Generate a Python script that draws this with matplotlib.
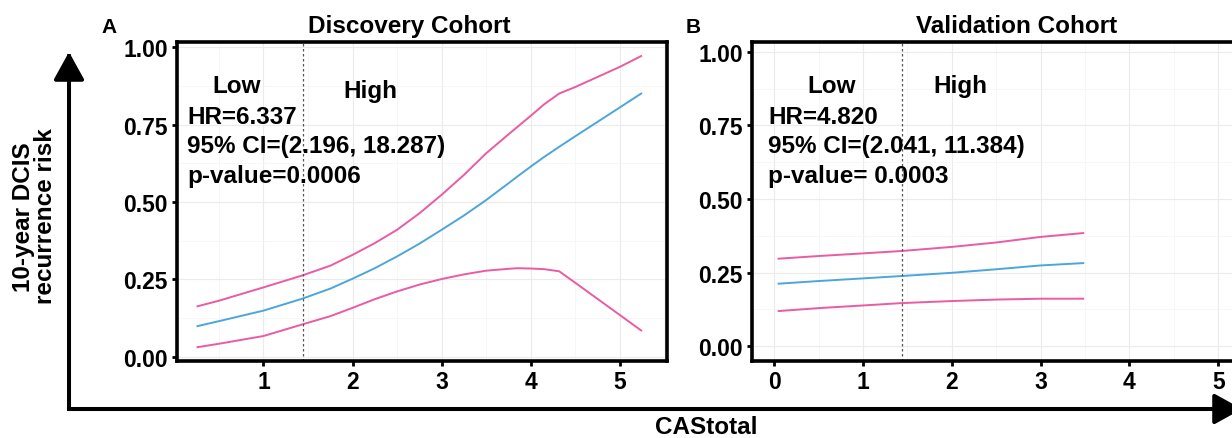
import matplotlib
matplotlib.use("Agg")
import matplotlib.pyplot as plt
import numpy as np
from matplotlib.patches import FancyArrowPatch

plt.rcParams["font.family"] = ["Liberation Sans", "DejaVu Sans"]
plt.rcParams["font.weight"] = "bold"

# --- data ------------------------------------------------------------------
disc_x = [0.26, 0.5, 1.0, 1.43, 1.75, 2.0, 2.25, 2.5, 2.75, 3.0, 3.25, 3.5, 3.75,
          3.85, 4.0, 4.15, 4.32, 4.5, 5.0, 5.24]
disc_mid = [0.099, 0.115, 0.149, 0.187, 0.220, 0.252, 0.286, 0.324, 0.365, 0.410, 0.456, 0.506, 0.560,
            0.582, 0.614, 0.645, 0.678, 0.712, 0.805, 0.850]
disc_upper = [0.163, 0.181, 0.224, 0.262, 0.294, 0.329, 0.367, 0.410, 0.463, 0.523, 0.587, 0.657, 0.718,
              0.742, 0.778, 0.815, 0.850, 0.871, 0.936, 0.971]
disc_lower = [0.031, 0.042, 0.067, 0.104, 0.131, 0.158, 0.186, 0.211, 0.233, 0.251, 0.266, 0.278, 0.284,
              0.286, 0.285, 0.283, 0.276, 0.239, 0.135, 0.085]

val_x = [0.05, 0.5, 1.0, 1.43, 2.0, 2.5, 3.0, 3.48]
val_mid = [0.212, 0.221, 0.230, 0.238, 0.249, 0.261, 0.274, 0.282]
val_upper = [0.297, 0.306, 0.315, 0.323, 0.337, 0.352, 0.371, 0.384]
val_lower = [0.119, 0.129, 0.138, 0.146, 0.153, 0.158, 0.161, 0.161]

cutoff = 1.44
yticks = [0.0, 0.25, 0.5, 0.75, 1.0]
ytick_labels = ["0.00", "0.25", "0.50", "0.75", "1.00"]

panels = [
    dict(title="Discovery Cohort", x=disc_x, mid=disc_mid, up=disc_upper, lo=disc_lower,
         stats=["HR=6.337", "95% CI=(2.196, 18.287)", "p-value=0.0006"],
         xticks=[1, 2, 3, 4, 5], xlim=(0.03, 5.53), ylim=(-0.012, 1.018), box=(177, 667),
         letter=("A", 109), title_x=409, low=(237, 93), high=(370, 98), stat_x=187),
    dict(title="Validation Cohort", x=val_x, mid=val_mid, up=val_upper, lo=val_lower,
         stats=["HR=4.820", "95% CI=(2.041, 11.384)", "p-value= 0.0003"],
         xticks=[0, 1, 2, 3, 4, 5], xlim=(-0.25, 6.0), ylim=(-0.049, 1.035), box=(752, 1307),
         letter=("B", 693), title_x=1017, low=(832, 93), high=(960, 93), stat_x=768),
]

pink = "#EA5BA3"
blue = "#4CA6DC"
fs = 17.5

W, H = 1232, 439
fig = plt.figure(figsize=(W / 100, H / 100), dpi=100)


def ftext(px, py, s, **kw):
    """Place text with pixel coordinates measured from the top-left corner."""
    return fig.text(px / W, 1 - py / H, s, fontweight="bold", **kw)


top_px, bot_px = 42.5, 361.5
for pan in panels:
    l, r = pan["box"]
    ax = fig.add_axes([l / W, 1 - bot_px / H, (r - l) / W, (bot_px - top_px) / H])

    # faint ggplot-like grid (ticks first, limits after so they are not widened)
    ax.set_xticks(pan["xticks"])
    ax.set_yticks(yticks)
    ax.set_xticks(np.arange(-0.5, 6.5, 1.0), minor=True)
    ax.set_yticks(np.arange(0.125, 1.0, 0.25), minor=True)
    ax.set_xlim(*pan["xlim"])
    ax.set_ylim(*pan["ylim"])
    ax.grid(which="major", color="#EBEBEB", lw=0.8)
    ax.grid(which="minor", color="#F4F4F4", lw=0.5)
    ax.set_axisbelow(True)
    ax.tick_params(which="minor", length=0)

    ax.plot(pan["x"], pan["up"], color=pink, lw=1.4)
    ax.plot(pan["x"], pan["lo"], color=pink, lw=1.4)
    ax.plot(pan["x"], pan["mid"], color=blue, lw=1.4)
    ax.axvline(cutoff, color="#555555", lw=0.9, ls=(0, (2, 2)))

    ax.set_yticklabels(ytick_labels)
    ax.tick_params(which="major", length=3.5, width=2, labelsize=16.5, pad=3, colors="black")
    for lab in ax.get_xticklabels() + ax.get_yticklabels():
        lab.set_fontweight("bold")
    for sp in ax.spines.values():
        sp.set_linewidth(2.6)
        sp.set_color("black")

    ftext(pan["low"][0], pan["low"][1], "Low", ha="center", va="baseline", fontsize=fs)
    ftext(pan["high"][0], pan["high"][1], "High", ha="center", va="baseline", fontsize=fs)
    for i, s in enumerate(pan["stats"]):
        ftext(pan["stat_x"], 124 + 29.5 * i, s, ha="left", va="baseline", fontsize=fs)

    ftext(pan["letter"][1], 33, pan["letter"][0], ha="center", va="baseline", fontsize=15)
    ftext(pan["title_x"], 33, pan["title"], ha="center", va="baseline", fontsize=fs)

# axis titles
ftext(24, 217, "10-year DCIS", ha="center", va="center", rotation=90, fontsize=fs)
ftext(46, 216, "recurrence risk", ha="center", va="center", rotation=90, fontsize=fs)
ftext(706, 434, "CAStotal", ha="center", va="baseline", fontsize=fs)

# big axis arrows
style = "-|>,head_length=17,head_width=9.4"
for tip in [(69, 53), (1242, 410)]:
    arr = FancyArrowPatch((69 / W, 1 - 410 / H), (tip[0] / W, 1 - tip[1] / H),
                          transform=fig.transFigure, arrowstyle=style, mutation_scale=1,
                          lw=2.9, color="black", shrinkA=0, shrinkB=0, capstyle="projecting")
    fig.add_artist(arr)

fig.savefig("out.png", dpi=100)
